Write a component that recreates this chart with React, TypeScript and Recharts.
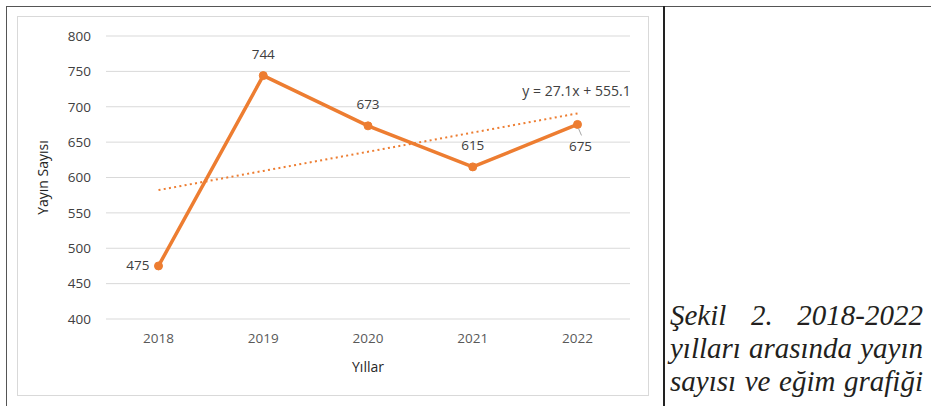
import React from "react";
import {
  LineChart,
  Line,
  XAxis,
  YAxis,
  CartesianGrid,
  LabelList,
} from "recharts";

const years = ["2018", "2019", "2020", "2021", "2022"];
const publications = [475, 744, 673, 615, 675];
// linear trend fitted values (y = 27.1x + 555.1)
const trendValues = [582.2, 609.3, 636.4, 663.5, 690.6];
const yTicks = [400, 450, 500, 550, 600, 650, 700, 750, 800];
const trendEquation = "y = 27.1x + 555.1";
const captionLines = ["Şekil 2. 2018-2022", "yılları arasında yayın", "sayısı ve eğim grafiği"];

const data = years.map((year, i) => ({
  year,
  count: publications[i],
  trend: trendValues[i],
}));

const ORANGE = "#ED7D31";
const FONT = "'Open Sans', 'Noto Sans', sans-serif";
const FS = 13.5;

function ValueLabel(props: any) {
  const { x, y, value, index } = props;
  const style = { fontFamily: FONT, fontSize: FS, fill: "#404040" };
  if (index === 0) {
    return (
      <text x={x - 9} y={y} dy={4} textAnchor="end" {...style}>
        {value}
      </text>
    );
  }
  if (index === publications.length - 1) {
    return (
      <g>
        <line x1={x + 1} y1={y + 4} x2={x + 4} y2={y + 11} stroke="#a6a6a6" strokeWidth={1} />
        <text x={x + 3} y={y + 27} textAnchor="middle" {...style}>
          {value}
        </text>
      </g>
    );
  }
  return (
    <text x={x} y={y - 17} textAnchor="middle" {...style}>
      {value}
    </text>
  );
}

function TrendLabel(props: any) {
  const { x, y, index } = props;
  if (index !== trendValues.length - 1) return null;
  return (
    <text x={x - 1} y={y - 17} textAnchor="middle" fontFamily={FONT} fontSize={14} fill="#404040">
      {trendEquation}
    </text>
  );
}

export default function App() {
  return (
    <div style={{ position: "absolute", left: 0, top: 0, width: 931, height: 406, background: "#fff", overflow: "hidden" }}>
      {/* outer frame */}
      <div style={{ position: "absolute", left: 6, top: 6, width: 925, height: 1, background: "#555" }} />
      <div style={{ position: "absolute", left: 6, top: 6, width: 1, height: 400, background: "#555" }} />
      <div style={{ position: "absolute", left: 663, top: 6, width: 2, height: 400, background: "#222" }} />

      {/* chart area */}
      <div
        style={{
          position: "absolute",
          left: 17,
          top: 16,
          width: 630,
          height: 378,
          border: "1px solid #d9d9d9",
        }}
      >
        <LineChart
          width={630}
          height={378}
          data={data}
          margin={{ top: 19, right: 18, left: 16, bottom: 16 }}
        >
          <CartesianGrid vertical={false} stroke="#d9d9d9" strokeWidth={1} />
          <XAxis
            dataKey="year"
            axisLine={false}
            tickLine={false}
            height={60}
            padding={{ left: 52.5, right: 52.5 }}
            tickMargin={8}
            tick={{ fill: "#595959", fontSize: FS, fontFamily: FONT }}
            label={{
              value: "Yıllar",
              position: "insideBottom",
              offset: 7,
              style: { fill: "#262626", fontSize: 14, fontFamily: FONT },
            }}
          />
          <YAxis
            width={72}
            domain={[400, 800]}
            ticks={yTicks}
            axisLine={false}
            tickLine={false}
            tickMargin={9}
            tick={{ fill: "#404040", fontSize: FS, fontFamily: FONT }}
            label={{
              value: "Yayın Sayısı",
              angle: -90,
              position: "insideLeft",
              offset: 9,
              style: { textAnchor: "middle", fill: "#262626", fontSize: 14, fontFamily: FONT },
            }}
          />
          <Line
            dataKey="trend"
            stroke={ORANGE}
            strokeWidth={2}
            strokeDasharray="2 3.3"
            dot={false}
            activeDot={false}
            isAnimationActive={false}
          >
            <LabelList dataKey="trend" content={TrendLabel} />
          </Line>
          <Line
            dataKey="count"
            stroke={ORANGE}
            strokeWidth={3.5}
            dot={{ r: 4, fill: ORANGE, stroke: ORANGE, strokeWidth: 1 }}
            activeDot={false}
            isAnimationActive={false}
          >
            <LabelList dataKey="count" content={ValueLabel} />
          </Line>
        </LineChart>
      </div>

      {/* caption */}
      <div
        style={{
          position: "absolute",
          left: 670,
          top: 299,
          width: 253,
          fontFamily: "'Liberation Serif', 'Times New Roman', serif",
          fontStyle: "italic",
          fontSize: 29,
          lineHeight: "33px",
          color: "#231f20",
        }}
      >
        {captionLines.map((line) => (
          <div key={line} style={{ textAlign: "justify", textAlignLast: "justify", whiteSpace: "nowrap" }}>
            {line}
          </div>
        ))}
      </div>
    </div>
  );
}
